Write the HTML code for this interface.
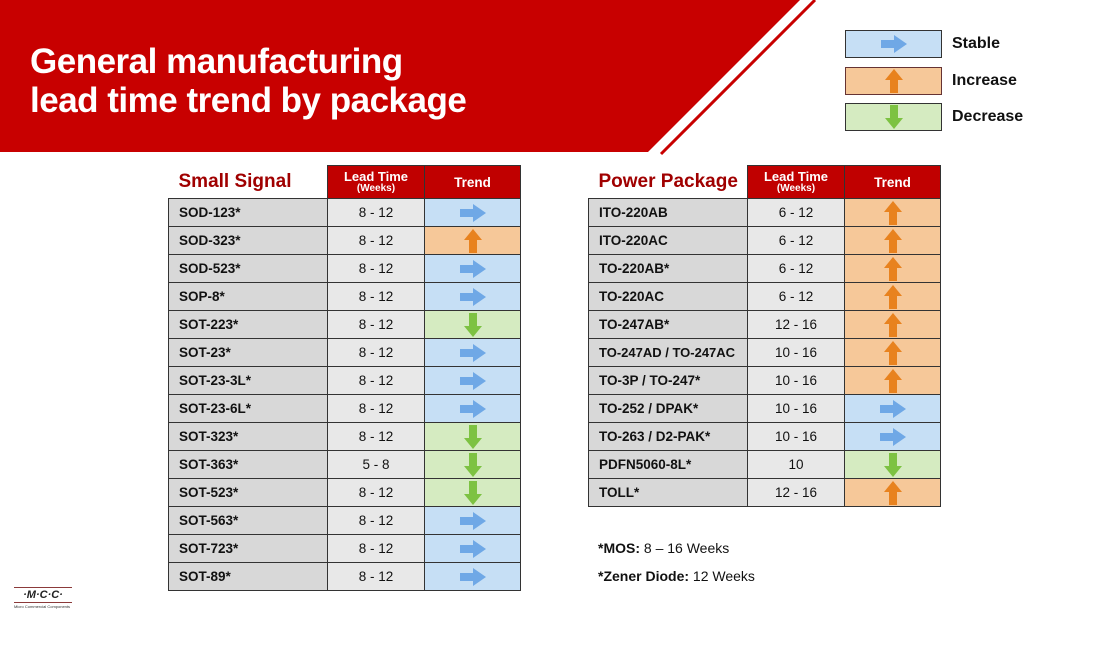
<!DOCTYPE html>
<html><head><meta charset="utf-8"><style>
*{margin:0;padding:0;box-sizing:border-box}
body{width:1110px;height:647px;background:#fff;position:relative;overflow:hidden;font-family:"Liberation Sans",Arial,sans-serif}
.abs{position:absolute}
.title{left:30px;top:42px;color:#fff;font-weight:bold;font-size:35px;line-height:39px;letter-spacing:-0.5px}
table{position:absolute;border-collapse:collapse;table-layout:fixed}
td{border:1.5px solid #333;height:28px;font-size:13.5px;color:#111;padding:0;white-space:nowrap;overflow:hidden}
td.n{background:#d8d8d8;font-weight:bold;padding-left:10px;width:159px}
td.l{background:#e8e8e8;text-align:center;width:97px}
td.t{width:96px;text-align:center}
td.t svg{display:block;margin:0 auto}
.B{background:#c6dff5}.O{background:#f6c899}.G{background:#d5ebc1}
tr.h td{height:33px;background:#c00000;color:#fff;font-weight:bold;text-align:center;border-color:#333}
tr.h td.cap{background:#fff;border:none;color:#a00000;font-size:19px;text-align:left;padding-left:10px}
.hl{font-size:13px;line-height:13px}.hs{font-size:10px}
.leg{left:845px;width:97px;height:28px;border:1.5px solid #333}
.legt{left:952px;font-size:16px;font-weight:bold;color:#111}
.note{left:598px;font-size:14px;color:#111}
</style></head><body>
<svg class="abs" style="left:0;top:0" width="1110" height="160">
<polygon points="0,0 800,0 648,152 0,152" fill="#c80000"/>
<line x1="661" y1="154" x2="815" y2="0" stroke="#c80000" stroke-width="3"/>
</svg>
<div class="abs title">General manufacturing<br>lead time trend by package</div>

<div class="abs leg B" style="top:30px"><svg style="display:block;margin:4px auto" width="26" height="18"><polygon points="0,5 13,5 13,0 26,9 13,18 13,13 0,13" fill="#6fa8e6"/></svg></div>
<div class="abs legt" style="top:35px">Stable</div>
<div class="abs leg O" style="top:67px;border-color:#633"><svg style="display:block;margin:1px auto" width="18" height="24"><polygon points="9,0 18,11 13,11 13,24 5,24 5,11 0,11" fill="#e8821e"/></svg></div>
<div class="abs legt" style="top:72px">Increase</div>
<div class="abs leg G" style="top:103px"><svg style="display:block;margin:1px auto" width="18" height="24"><polygon points="9,24 18,13 13,13 13,0 5,0 5,13 0,13" fill="#7dc242"/></svg></div>
<div class="abs legt" style="top:108px">Decrease</div>

<table style="left:168px;top:165px">
<tr class="h"><td class="cap" style="width:159px">Small Signal</td><td style="width:97px"><div class="hl">Lead Time</div><div class="hs">(Weeks)</div></td><td style="width:96px">Trend</td></tr>
<tr><td class="n">SOD-123*</td><td class="l">8 - 12</td><td class="t B"><svg width="26" height="18"><polygon points="0,5 13,5 13,0 26,9 13,18 13,13 0,13" fill="#6fa8e6"/></svg></td></tr>
<tr><td class="n">SOD-323*</td><td class="l">8 - 12</td><td class="t O"><svg width="18" height="24"><polygon points="9,0 18,11 13,11 13,24 5,24 5,11 0,11" fill="#e8821e"/></svg></td></tr>
<tr><td class="n">SOD-523*</td><td class="l">8 - 12</td><td class="t B"><svg width="26" height="18"><polygon points="0,5 13,5 13,0 26,9 13,18 13,13 0,13" fill="#6fa8e6"/></svg></td></tr>
<tr><td class="n">SOP-8*</td><td class="l">8 - 12</td><td class="t B"><svg width="26" height="18"><polygon points="0,5 13,5 13,0 26,9 13,18 13,13 0,13" fill="#6fa8e6"/></svg></td></tr>
<tr><td class="n">SOT-223*</td><td class="l">8 - 12</td><td class="t G"><svg width="18" height="24"><polygon points="9,24 18,13 13,13 13,0 5,0 5,13 0,13" fill="#7dc242"/></svg></td></tr>
<tr><td class="n">SOT-23*</td><td class="l">8 - 12</td><td class="t B"><svg width="26" height="18"><polygon points="0,5 13,5 13,0 26,9 13,18 13,13 0,13" fill="#6fa8e6"/></svg></td></tr>
<tr><td class="n">SOT-23-3L*</td><td class="l">8 - 12</td><td class="t B"><svg width="26" height="18"><polygon points="0,5 13,5 13,0 26,9 13,18 13,13 0,13" fill="#6fa8e6"/></svg></td></tr>
<tr><td class="n">SOT-23-6L*</td><td class="l">8 - 12</td><td class="t B"><svg width="26" height="18"><polygon points="0,5 13,5 13,0 26,9 13,18 13,13 0,13" fill="#6fa8e6"/></svg></td></tr>
<tr><td class="n">SOT-323*</td><td class="l">8 - 12</td><td class="t G"><svg width="18" height="24"><polygon points="9,24 18,13 13,13 13,0 5,0 5,13 0,13" fill="#7dc242"/></svg></td></tr>
<tr><td class="n">SOT-363*</td><td class="l">5 - 8</td><td class="t G"><svg width="18" height="24"><polygon points="9,24 18,13 13,13 13,0 5,0 5,13 0,13" fill="#7dc242"/></svg></td></tr>
<tr><td class="n">SOT-523*</td><td class="l">8 - 12</td><td class="t G"><svg width="18" height="24"><polygon points="9,24 18,13 13,13 13,0 5,0 5,13 0,13" fill="#7dc242"/></svg></td></tr>
<tr><td class="n">SOT-563*</td><td class="l">8 - 12</td><td class="t B"><svg width="26" height="18"><polygon points="0,5 13,5 13,0 26,9 13,18 13,13 0,13" fill="#6fa8e6"/></svg></td></tr>
<tr><td class="n">SOT-723*</td><td class="l">8 - 12</td><td class="t B"><svg width="26" height="18"><polygon points="0,5 13,5 13,0 26,9 13,18 13,13 0,13" fill="#6fa8e6"/></svg></td></tr>
<tr><td class="n">SOT-89*</td><td class="l">8 - 12</td><td class="t B"><svg width="26" height="18"><polygon points="0,5 13,5 13,0 26,9 13,18 13,13 0,13" fill="#6fa8e6"/></svg></td></tr>
</table>

<table style="left:588px;top:165px">
<tr class="h"><td class="cap" style="width:159px">Power Package</td><td style="width:97px"><div class="hl">Lead Time</div><div class="hs">(Weeks)</div></td><td style="width:96px">Trend</td></tr>
<tr><td class="n">ITO-220AB</td><td class="l">6 - 12</td><td class="t O"><svg width="18" height="24"><polygon points="9,0 18,11 13,11 13,24 5,24 5,11 0,11" fill="#e8821e"/></svg></td></tr>
<tr><td class="n">ITO-220AC</td><td class="l">6 - 12</td><td class="t O"><svg width="18" height="24"><polygon points="9,0 18,11 13,11 13,24 5,24 5,11 0,11" fill="#e8821e"/></svg></td></tr>
<tr><td class="n">TO-220AB*</td><td class="l">6 - 12</td><td class="t O"><svg width="18" height="24"><polygon points="9,0 18,11 13,11 13,24 5,24 5,11 0,11" fill="#e8821e"/></svg></td></tr>
<tr><td class="n">TO-220AC</td><td class="l">6 - 12</td><td class="t O"><svg width="18" height="24"><polygon points="9,0 18,11 13,11 13,24 5,24 5,11 0,11" fill="#e8821e"/></svg></td></tr>
<tr><td class="n">TO-247AB*</td><td class="l">12 - 16</td><td class="t O"><svg width="18" height="24"><polygon points="9,0 18,11 13,11 13,24 5,24 5,11 0,11" fill="#e8821e"/></svg></td></tr>
<tr><td class="n" style="font-size:13px">TO-247AD / TO-247AC</td><td class="l">10 - 16</td><td class="t O"><svg width="18" height="24"><polygon points="9,0 18,11 13,11 13,24 5,24 5,11 0,11" fill="#e8821e"/></svg></td></tr>
<tr><td class="n">TO-3P / TO-247*</td><td class="l">10 - 16</td><td class="t O"><svg width="18" height="24"><polygon points="9,0 18,11 13,11 13,24 5,24 5,11 0,11" fill="#e8821e"/></svg></td></tr>
<tr><td class="n">TO-252 / DPAK*</td><td class="l">10 - 16</td><td class="t B"><svg width="26" height="18"><polygon points="0,5 13,5 13,0 26,9 13,18 13,13 0,13" fill="#6fa8e6"/></svg></td></tr>
<tr><td class="n">TO-263 / D2-PAK*</td><td class="l">10 - 16</td><td class="t B"><svg width="26" height="18"><polygon points="0,5 13,5 13,0 26,9 13,18 13,13 0,13" fill="#6fa8e6"/></svg></td></tr>
<tr><td class="n">PDFN5060-8L*</td><td class="l">10</td><td class="t G"><svg width="18" height="24"><polygon points="9,24 18,13 13,13 13,0 5,0 5,13 0,13" fill="#7dc242"/></svg></td></tr>
<tr><td class="n">TOLL*</td><td class="l">12 - 16</td><td class="t O"><svg width="18" height="24"><polygon points="9,0 18,11 13,11 13,24 5,24 5,11 0,11" fill="#e8821e"/></svg></td></tr>
</table>

<div class="abs note" style="top:540px"><b>*MOS:</b> 8 – 16 Weeks</div>
<div class="abs note" style="top:568px"><b>*Zener Diode:</b> 12 Weeks</div>

<div class="abs" style="left:14px;top:587px;width:58px;height:26px">
<div style="border-top:1.5px solid #8b3a3a;border-bottom:1.5px solid #8b3a3a;height:16px;text-align:center;font-size:11px;font-weight:bold;font-style:italic;color:#222;line-height:14px">·M·C·C·</div>
<div style="font-size:4px;color:#333;white-space:nowrap;margin-top:1px">Micro Commercial Components</div>
</div>
</body></html>
